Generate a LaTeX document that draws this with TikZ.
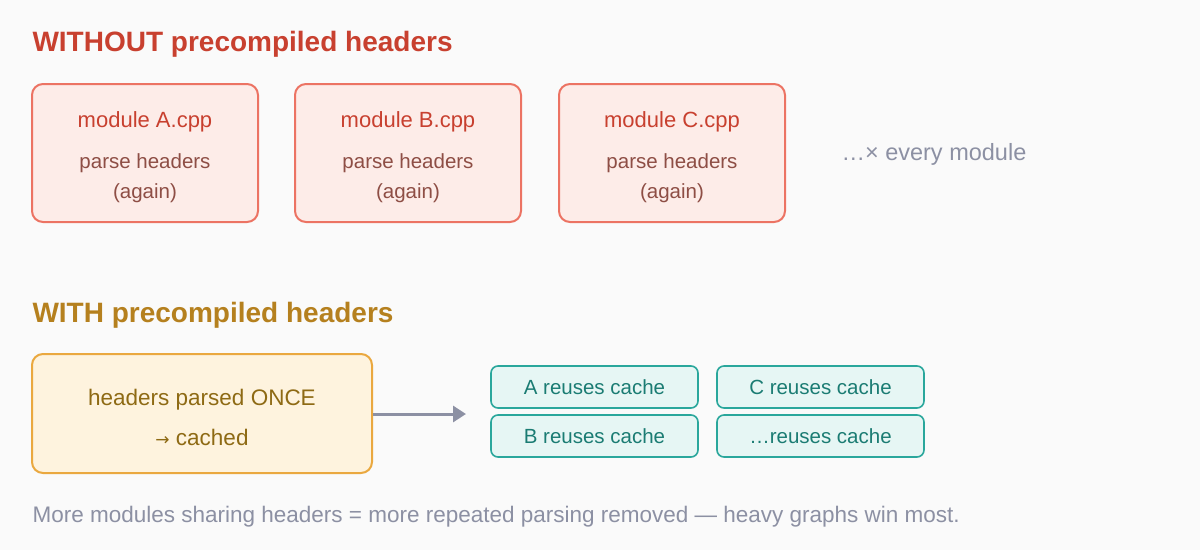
\documentclass[tikz,border=0pt]{standalone}
\usepackage{fontspec}
\setmainfont{Liberation Sans}
\newfontfamily\djv{DejaVu Sans}
\usetikzlibrary{arrows.meta}
\definecolor{bg}{HTML}{FAFAFA}
\definecolor{redt}{HTML}{C8402F}
\definecolor{redf}{HTML}{FDECE8}
\definecolor{reds}{HTML}{EC7363}
\definecolor{redd}{HTML}{8E4E45}
\definecolor{grayt}{HTML}{8C90A3}
\definecolor{orat}{HTML}{B5801E}
\definecolor{oraf}{HTML}{FEF3DE}
\definecolor{oras}{HTML}{EAA83F}
\definecolor{orad}{HTML}{8E6A14}
\definecolor{teals}{HTML}{2AA79C}
\definecolor{tealf}{HTML}{E6F6F4}
\definecolor{tealt}{HTML}{1B7C73}
\begin{document}
\begin{tikzpicture}[x=1pt,y=-1pt,
 title/.style={anchor=west,font=\fontsize{28}{32}\selectfont\bfseries},
 rbox/.style={draw=reds,fill=redf,line width=2pt,rounded corners=11pt},
 tbox/.style={draw=teals,fill=tealf,line width=1.6pt,rounded corners=7pt,minimum width=207pt,minimum height=42pt,text=tealt,font=\fontsize{20.5}{22}\selectfont},
 modt/.style={text=redt,font=\fontsize{22}{24}\selectfont},
 part/.style={text=redd,font=\fontsize{20.5}{22}\selectfont}]
\fill[bg] (0,0) rectangle (1200,550);
\useasboundingbox (0,0) rectangle (1200,550);
\node[title,text=redt] (t1) at (29,44) {WITHOUT precompiled headers};
\foreach \n/\x in {A/32,B/295,C/559}{
 \draw[rbox] (\x,84) rectangle ++(226,138);
 \node[modt] (m\n) at (\x+113,122) {module \n.cpp};
 \node[part] (p\n) at (\x+113,163) {parse headers};
 \node[part] (g\n) at (\x+113,193) {(again)};
}
\node[anchor=west,text=grayt,font=\fontsize{23.5}{26}\selectfont] (ev) at (838,154) {…× every module};
\node[title,text=orat] (t2) at (29,315) {WITH precompiled headers};
\node[draw=oras,fill=oraf,line width=2pt,rounded corners=11pt,minimum width=340pt,minimum height=119pt] (h) at (202,413.5) {};
\node[text=orad,font=\fontsize{22.5}{24}\selectfont] (h1) at (202,400) {headers parsed ONCE};
\node[text=orad,font=\fontsize{22.5}{24}\selectfont] (h2) at (202,437) {{\djv\fontsize{17}{20}\selectfont →} cached};
\node[tbox] (a) at (594.5,387) {A reuses cache};
\node[tbox] (c) at (820.5,387) {C reuses cache};
\node[tbox] (b) at (594.5,436) {B reuses cache};
\node[tbox] (d) at (820.5,436) {…reuses cache};
\coordinate (e) at (466,414);
\draw[grayt,line width=3pt,-{Triangle[length=13pt,width=16pt]}] (h.east|-e) -- (e);
\node[anchor=west,text=grayt,font=\fontsize{22.5}{25}\selectfont] (f) at (29,517) {More modules sharing headers = more repeated parsing removed — heavy graphs win most.};
\end{tikzpicture}
\end{document}
